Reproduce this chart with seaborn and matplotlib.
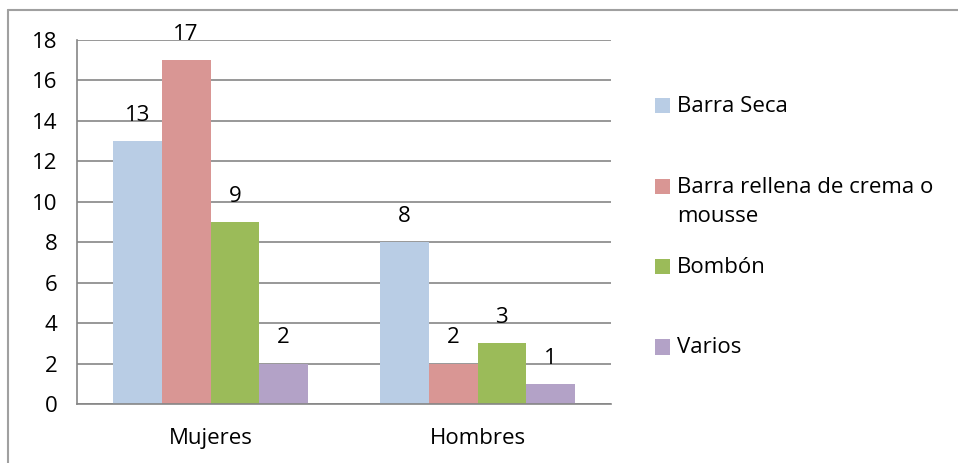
import pandas
import numpy
import seaborn as sns
import matplotlib
import matplotlib.pyplot as plt
from matplotlib.lines import Line2D
from matplotlib.patches import Patch
plt.switch_backend('agg')

groups = ['Mujeres', 'Hombres']
series = ['Barra Seca', 'Barra rellena de crema o\nmousse', 'Bombón', 'Varios']
barra_seca = [13, 8]
barra_rellena = [17, 2]
bombon = [9, 3]
varios = [2, 1]
colors = ['#B9CDE5', '#D99694', '#9BBB59', '#B3A2C7']

rows = []
for s, vals in zip(series, [barra_seca, barra_rellena, bombon, varios]):
    for g, v in zip(groups, vals):
        rows.append({'grupo': g, 'tipo': s, 'n': v})
df = pandas.DataFrame(rows)

sns.set_style('white')
plt.rcParams['font.family'] = ['Open Sans', 'DejaVu Sans']
plt.rcParams['text.color'] = 'black'
plt.rcParams['xtick.labelcolor'] = 'black'
plt.rcParams['ytick.labelcolor'] = 'black'
grid_c = '#868686'
fs = 16

fig = plt.figure(figsize=(9.58, 4.63), dpi=100)
ax = fig.add_axes([77 / 958, 59 / 463, (611 - 77) / 958, (404 - 40) / 463])
sns.barplot(data=df, x='grupo', y='n', hue='tipo', palette=colors, width=0.73,
            saturation=1, gap=0, ax=ax, legend=False, linewidth=0)

ax.set_ylim(0, 18)
ax.set_xlim(-0.5, 1.5)
ax.set_yticks(range(0, 19, 2))
ax.yaxis.grid(True, color=grid_c, linewidth=1.2)
ax.set_axisbelow(True)
ax.set_xlabel('')
ax.set_ylabel('')
for side in ['top', 'right']:
    ax.spines[side].set_visible(False)
for side in ['left', 'bottom']:
    ax.spines[side].set_color(grid_c)
    ax.spines[side].set_linewidth(1.2)
ax.tick_params(axis='y', length=5, color=grid_c, width=1.2, pad=9, labelsize=fs)
ax.tick_params(axis='x', which='major', length=0, pad=17, labelsize=fs)
ax.set_xticks([-0.5, 0.5, 1.5], minor=True)
ax.tick_params(axis='x', which='minor', length=5, color=grid_c, width=1.2)

for c in ax.containers:
    ax.bar_label(c, padding=11, fontsize=fs, color='black')

# every legend entry gets two lines so the first lines are evenly spaced
leg_labels = [s if '\n' in s else s + '\n' for s in series]
handles = [Patch(facecolor=col, edgecolor='none') for col in colors]
leg = fig.legend(handles, leg_labels, loc='upper left', bbox_to_anchor=(644 / 958, 1 - 85 / 463),
                 frameon=False, fontsize=fs, handlelength=0.68, handleheight=0.68,
                 handletextpad=0.32, labelspacing=1.37, borderpad=0)
for t in leg.get_texts():
    t.set_linespacing(1.5)
for h in leg.legend_handles:
    h.set_y(h.get_y() + 0.7 * fs)

# outer chart border (top and left only visible)
fig.add_artist(Line2D([8 / 958, 1], [1 - 10 / 463, 1 - 10 / 463], color='#a0a0a0', lw=1.5))
fig.add_artist(Line2D([8 / 958, 8 / 958], [0, 1 - 10 / 463], color='#a0a0a0', lw=1.5))

fig.savefig('out.png', dpi=100)
